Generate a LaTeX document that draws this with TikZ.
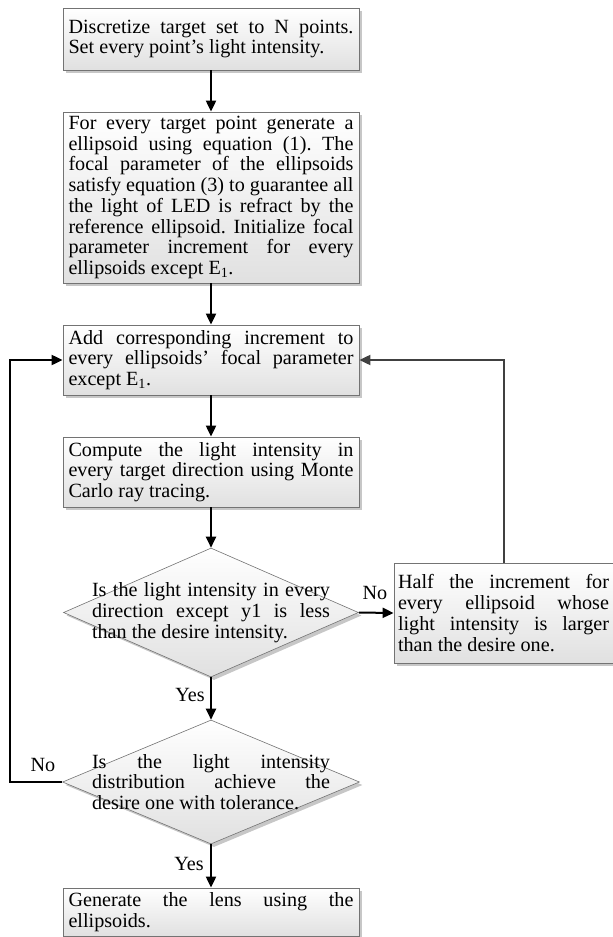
\documentclass[tikz,border=0pt]{standalone}
\usepackage{fontspec}
\setmainfont{Liberation Serif}
\usetikzlibrary{arrows.meta,shadows,shapes.geometric}
\newcommand\fs{\spaceskip=0pt\xspaceskip=0pt\frenchspacing}
\newcommand\jl[2][285pt]{\leavevmode\hbox to #1{\fs #2}}
\newlength\reflen
\AtBeginDocument{%
  \settowidth\reflen{\fontsize{10pt}{12pt}\selectfont satisfy equation (3) to guarantee all}%
  \pgfmathsetmacro\fsz{10*285/\reflen}%
  \xdef\fsz{\fsz}}
\begin{document}
\begin{tikzpicture}[x=1pt,y=-1pt]
\tikzset{
  txt/.style={font=\fontsize{\fsz pt}{20.7pt}\selectfont},
  shade/.style={top color=white, bottom color=black!12,
    drop shadow={shadow xshift=3pt, shadow yshift=-3pt, fill=black!22, opacity=1}},
  box/.style={shade, txt, draw=black!55, line width=0.8pt, inner sep=0pt, align=left},
  dia/.style={shade, diamond, draw=black!55, line width=0.6pt, inner sep=0pt},
  arr/.style={line width=2pt, -{Triangle[length=11pt,width=10pt]}},
  lbl/.style={txt, inner sep=0pt}
}
\useasboundingbox (0,0) rectangle (613,937);

\node[box, minimum width=296pt, minimum height=62pt, text width=285pt] (b1) at (211,39)
 {\fs\jl{Discretize target set to N points.}\\Set every point’s light intensity.};

\node[box, minimum width=296pt, minimum height=171pt, text width=285pt] (b2) at (211,197.5)
 {\fs\jl{For every target point generate a}\\
  \jl{ellipsoid using equation (1). The}\\
  \jl{focal parameter of the ellipsoids}\\
  \jl{satisfy equation (3) to guarantee all}\\
  \jl{the light of LED is refract by the}\\
  \jl{reference ellipsoid. Initialize focal}\\
  \jl{parameter increment for every}\\
  ellipsoids except E\textsubscript{1}.};

\node[box, minimum width=296pt, minimum height=70pt, text width=285pt] (b3) at (211,360)
 {\fs\jl{Add corresponding increment to}\\
  \jl{every ellipsoids’ focal parameter}\\
  except E\textsubscript{1}.};

\node[box, minimum width=296pt, minimum height=70pt, text width=285pt] (b4) at (211,472)
 {\fs\jl{Compute the light intensity in}\\
  \jl{every target direction using Monte}\\
  Carlo ray tracing.};

\node[dia, minimum width=295pt, minimum height=129pt] (d1) at (211,612.5) {};
\node[lbl, text width=238pt, align=left] (d1t) at (211,612.5)
 {\fs\jl[238pt]{Is the light intensity in every}\\
  \jl[238pt]{direction except y1 is less}\\
  than the desire intensity.};

\node[box, minimum width=219pt, minimum height=100pt, text width=211pt] (half) at (503.5,613)
 {\fs\jl[211pt]{Half the increment for}\\
  \jl[211pt]{every ellipsoid whose}\\
  \jl[211pt]{light intensity is larger}\\
  than the desire one.};

\node[dia, minimum width=297pt, minimum height=124pt] (d2) at (211,782) {};
\node[lbl, text width=238pt, align=left] (d2t) at (211,782)
 {\fs\jl[238pt]{Is the light intensity}\\
  \jl[238pt]{distribution achieve the}\\
  desire one with tolerance.};

\node[box, minimum width=296pt, minimum height=48pt, text width=285pt] (b6) at (211,912)
 {\fs\jl{Generate the lens using the}\\
  ellipsoids.};

\coordinate (lp) at (10,782);

\draw[arr] (b1) -- (b2);
\draw[arr] (b2) -- (b3);
\draw[arr] (b3) -- (b4);
\draw[arr] (b4) -- (d1);
\draw[arr] (d1) -- (d2);
\draw[arr] (d2) -- (b6);
\draw[arr] (d1.east) -- (half.west);
\draw[arr, draw=black!75] (half.north) |- (b3.east);
\draw[arr] (d2.west) -- (lp) |- (b3.west);

\node[lbl] (no1) at (375,593) {No};
\node[lbl] (yes1) at (190,695) {Yes};
\node[lbl] (no2) at (43,765) {No};
\node[lbl] (yes2) at (189,864) {Yes};
\end{tikzpicture}
\end{document}
